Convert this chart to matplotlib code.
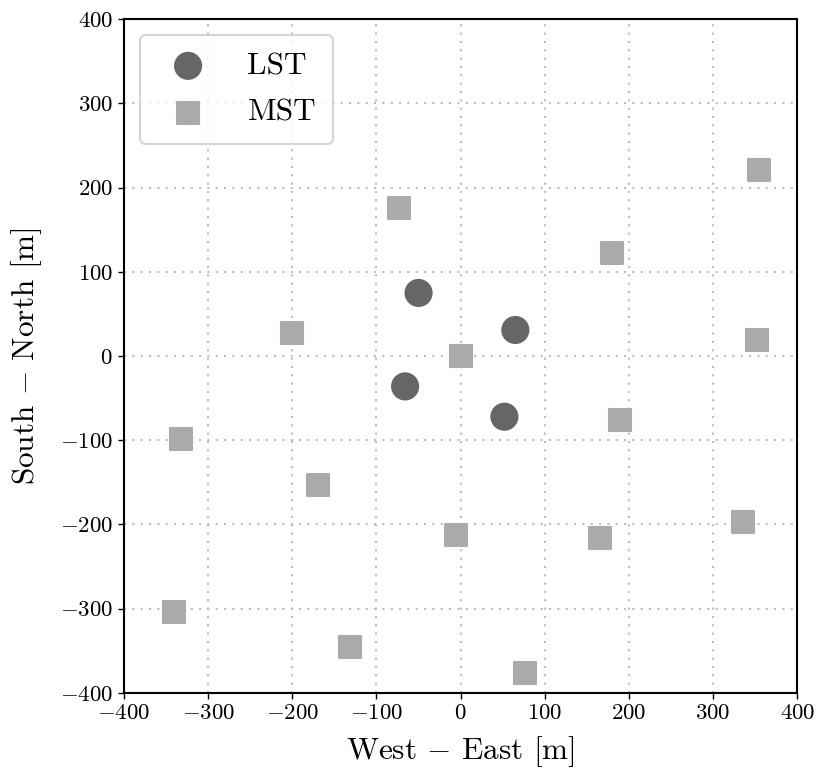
import matplotlib
matplotlib.use("Agg")
import matplotlib.pyplot as plt

plt.rcParams['font.family'] = 'serif'
plt.rcParams['font.serif'] = ['cmr10', 'DejaVu Serif']
plt.rcParams['mathtext.fontset'] = 'cm'
plt.rcParams['axes.formatter.use_mathtext'] = True

lst_x = [-50, 65, -66, 52]
lst_y = [75, 31, -36, -72]

mst_x = [355, -73, 180, -200, 0, 352, -332, 189, -170, -6, 166, 335, -341, -131, 77]
mst_y = [221, 176, 123, 27, 0, 19, -99, -76, -153, -212, -216, -197, -304, -346, -376]

ticks = [-400, -300, -200, -100, 0, 100, 200, 300, 400]

fig = plt.figure(figsize=(8.16, 7.72), dpi=100)
ax = fig.add_axes([0.152, 0.1025, 0.825, 0.8725])

ax.scatter(lst_x, lst_y, s=410, marker='o', color='#666666', edgecolors='none',
           label='LST', zorder=3)
ax.scatter(mst_x, mst_y, s=265, marker='s', color='#aaaaaa', edgecolors='#aaaaaa',
           linewidths=1.5, label='MST', zorder=3)

ax.set_xlim(-400, 400)
ax.set_ylim(-400, 400)
ax.set_xticks(ticks)
ax.set_yticks(ticks)
ax.tick_params(labelsize=16.5, width=1.0, length=4, direction='out', pad=4)
for sp in ax.spines.values():
    sp.set_linewidth(1.5)
ax.grid(True, linestyle=(0, (1, 3)), color='#bdbdbd', linewidth=1.5, zorder=0)
ax.set_axisbelow(True)

ax.set_xlabel(r'West $-$ East [m]', fontsize=22.5, labelpad=8)
ax.set_ylabel(r'South $-$ North [m]', fontsize=22.5, labelpad=11)

leg = ax.legend(loc='upper left', fontsize=22.5, frameon=True, fancybox=True,
                borderpad=0.55, labelspacing=0.6, handletextpad=0.9,
                borderaxespad=0.5)
leg.get_frame().set_edgecolor('#cccccc')
leg.get_frame().set_linewidth(1.5)

fig.savefig('out.png', dpi=100)
